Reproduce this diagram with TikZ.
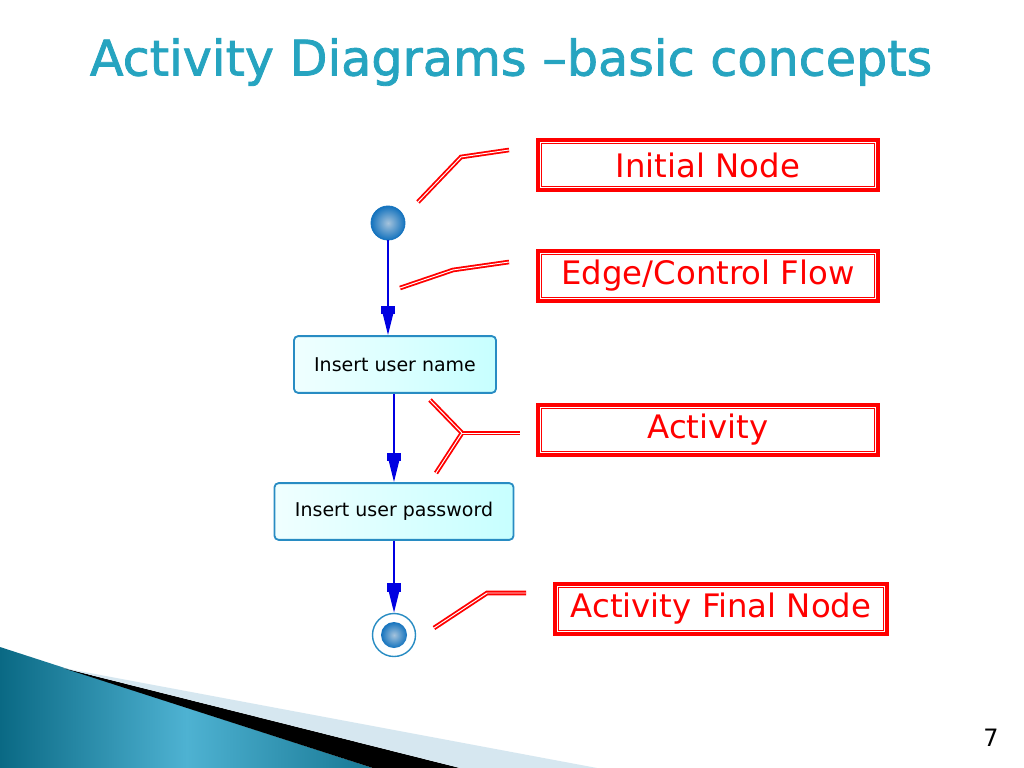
\documentclass[tikz,border=0pt]{standalone}
\usepackage{fontspec}
\setmainfont{DejaVu Sans}
\newfontfamily\titlefont[FakeBold=1.6]{DejaVu Sans}
\usetikzlibrary{arrows.meta,positioning,calc}

\definecolor{titleteal}{RGB}{38,164,192}
\definecolor{flowblue}{RGB}{0,0,225}
\definecolor{boxedge}{RGB}{40,140,195}
\definecolor{ballblue}{RGB}{20,115,190}
\definecolor{ballhi}{RGB}{165,195,220}
\definecolor{darkteal}{RGB}{10,105,132}
\definecolor{midteal}{RGB}{78,178,210}
\definecolor{paleblue}{RGB}{214,231,240}

\begin{document}
\begin{tikzpicture}[x=0.025cm,y=-0.025cm,
  callout/.style={draw=red,line width=2.8pt,fill=white,text=red,
    minimum width=8.5cm,minimum height=1.25cm,font=\fontsize{23}{26}\selectfont,
    path picture={\draw[red,line width=0.8pt]
      ([shift={(0.09cm,-0.09cm)}]path picture bounding box.north west) rectangle
      ([shift={(-0.09cm,0.09cm)}]path picture bounding box.south east);}},
  leader/.style={draw=red,double=white,line width=1.3pt,double distance=0.7pt},
  action/.style={draw=boxedge,line width=1.3pt,rounded corners=3pt,
    left color=cyan!6,right color=cyan!22,minimum height=1.42cm,
    font=\fontsize{13.5}{15}\selectfont},
  flow/.style={draw=flowblue,line width=1.4pt,
    -{Rectangle[width=10pt,length=6pt]Triangle[width=7pt,length=15pt]}}]

% page and background
\path[fill=white,use as bounding box] (0,0) rectangle (1024,768);
\shade[left color=darkteal,right color=darkteal!80!midteal,middle color=midteal]
  (0,647) -- (373,768) -- (0,768) -- cycle;
\fill[black] (63,668) -- (460,768) -- (373,768) -- cycle;
\fill[paleblue] (63,668) -- (597,768) -- (460,768) -- cycle;

\node[text=titleteal,font=\titlefont\fontsize{35}{38}\selectfont] (title) at (511,62)
  {Activity Diagrams –basic concepts};
\node[font=\fontsize{17}{19}\selectfont] (pagenum) at (991,738) {7};

% activity diagram
\node[circle,minimum size=0.85cm,inner sep=0pt,draw=ballblue,line width=0.6pt,
  inner color=ballhi,outer color=ballblue] (init) at (388,223) {};
\node[action,minimum width=5.05cm] (namebox) at (395,364.5) {Insert user name};
\node[action,minimum width=5.975cm] (pwdbox) at (394,511.5) {Insert user password};
\node[circle,minimum size=1.075cm,inner sep=0pt,draw=boxedge,line width=1pt,
  fill=white] (final) at (394,635) {};
\node[circle,minimum size=0.65cm,inner sep=0pt,
  inner color=ballhi,outer color=ballblue] (finaldot) at (final) {};

\draw[flow] (init) -- (init |- namebox.north);
\draw[flow] (namebox.south -| pwdbox) -- (pwdbox);
\draw[flow] (pwdbox) -- (final);

% callouts
\node[callout] (initbox) at (708,165) {Initial Node};
\node[callout] (edgebox) at (708,276) {Edge/Control Flow};
\node[callout] (actbox) at (708,430) {Activity};
\node[callout,minimum width=8.3cm] (finalbox) at (721,609) {Activity Final Node};

\draw[leader] (418,202) -- (461,157) -- (509,150);
\draw[leader] (400,288) -- (453,270) -- (509,262);
\draw[leader] (430,400) -- (462,433) -- (436,473);
\draw[leader] (462,433) -- (520,433);
\draw[leader] (434,628) -- (487,593) -- (526,593);
\end{tikzpicture}
\end{document}
